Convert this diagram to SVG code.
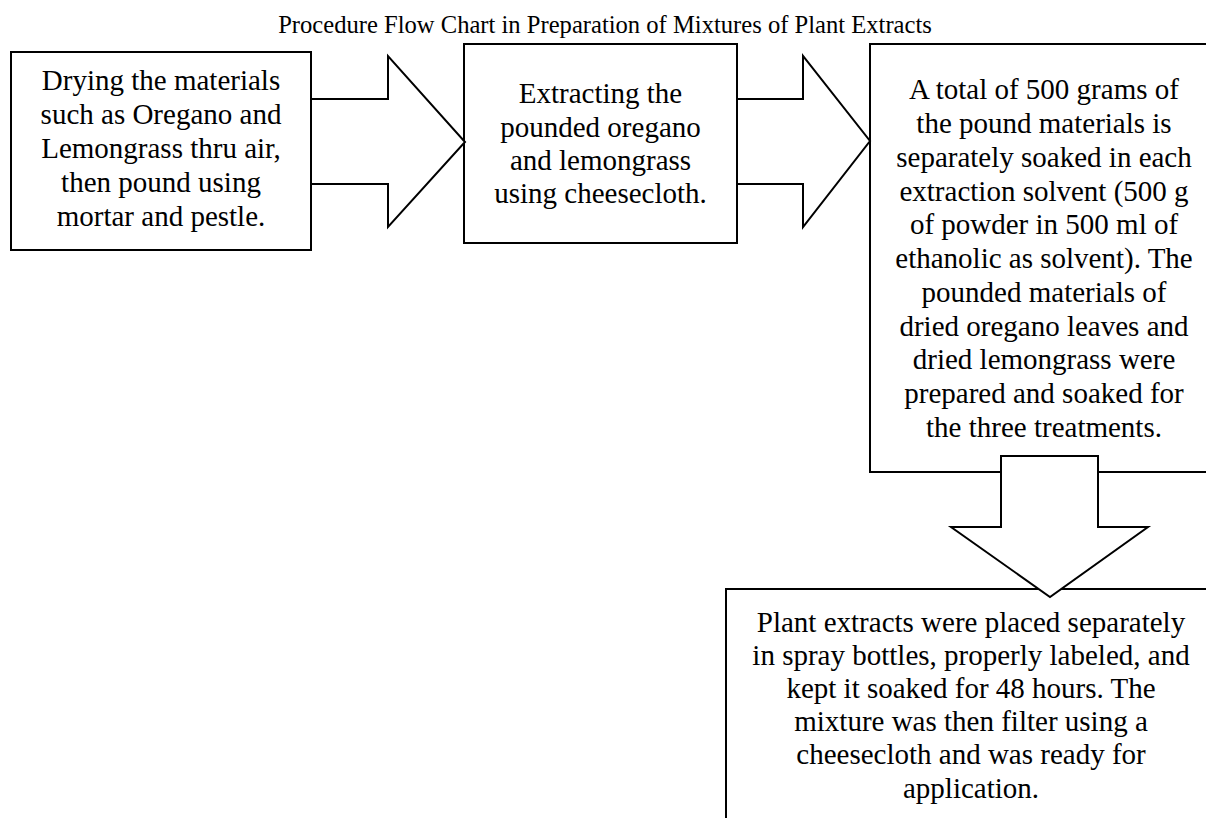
<svg xmlns="http://www.w3.org/2000/svg" width="1206" height="818" viewBox="0 0 1206 818">
<style>
.box{fill:#fff;stroke:#000;stroke-width:2}
.arrow{fill:#fff;stroke:#000;stroke-width:2;stroke-linejoin:miter}
text{font-family:"Liberation Serif","Times New Roman",serif;fill:#000;text-anchor:middle}
.t{font-size:29px}
.title{font-size:24.6px}
</style>
<rect width="1206" height="818" fill="#fff"/>
<text class="title" x="605" y="33">Procedure Flow Chart in Preparation of Mixtures of Plant Extracts</text>
<g id="node1">
<rect class="box" x="11" y="52" width="300" height="198"/>
<text class="t" x="161" y="90">Drying the materials</text>
<text class="t" x="161" y="124">such as Oregano and</text>
<text class="t" x="161" y="158">Lemongrass thru air,</text>
<text class="t" x="161" y="192">then pound using</text>
<text class="t" x="161" y="226">mortar and pestle.</text>
</g>
<g id="node2">
<rect class="box" x="464" y="44" width="273" height="199"/>
<text class="t" x="600.5" y="103">Extracting the</text>
<text class="t" x="600.5" y="137">pounded oregano</text>
<text class="t" x="600.5" y="170">and lemongrass</text>
<text class="t" x="600.5" y="203">using cheesecloth.</text>
</g>
<g id="node3">
<rect class="box" x="870" y="44" width="348" height="428"/>
<text class="t" x="1044" y="99">A total of 500 grams of</text>
<text class="t" x="1044" y="133">the pound materials is</text>
<text class="t" x="1044" y="167">separately soaked in each</text>
<text class="t" x="1044" y="201">extraction solvent (500 g</text>
<text class="t" x="1044" y="234">of powder in 500 ml of</text>
<text class="t" x="1044" y="268">ethanolic as solvent). The</text>
<text class="t" x="1044" y="302">pounded materials of</text>
<text class="t" x="1044" y="336">dried oregano leaves and</text>
<text class="t" x="1044" y="369">dried lemongrass were</text>
<text class="t" x="1044" y="403">prepared and soaked for</text>
<text class="t" x="1044" y="437">the three treatments.</text>
</g>
<g id="node4">
<rect class="box" x="726" y="589" width="490" height="260"/>
<text class="t" x="971" y="632">Plant extracts were placed separately</text>
<text class="t" x="971" y="665">in spray bottles, properly labeled, and</text>
<text class="t" x="971" y="698">kept it soaked for 48 hours. The</text>
<text class="t" x="971" y="731">mixture was then filter using a</text>
<text class="t" x="971" y="764">cheesecloth and was ready for</text>
<text class="t" x="971" y="798">application.</text>
</g>
<g id="connectors">
<polygon class="arrow" points="311,99 388,99 388,56 465,142 388,227 388,184 311,184"/>
<polygon class="arrow" points="737,99 803,99 803,56 870,141 803,227 803,184 737,184"/>
<polygon class="arrow" points="1001,456 1098,456 1098,527 1148,527 1050,597 951,527 1001,527"/>
</g>
</svg>
